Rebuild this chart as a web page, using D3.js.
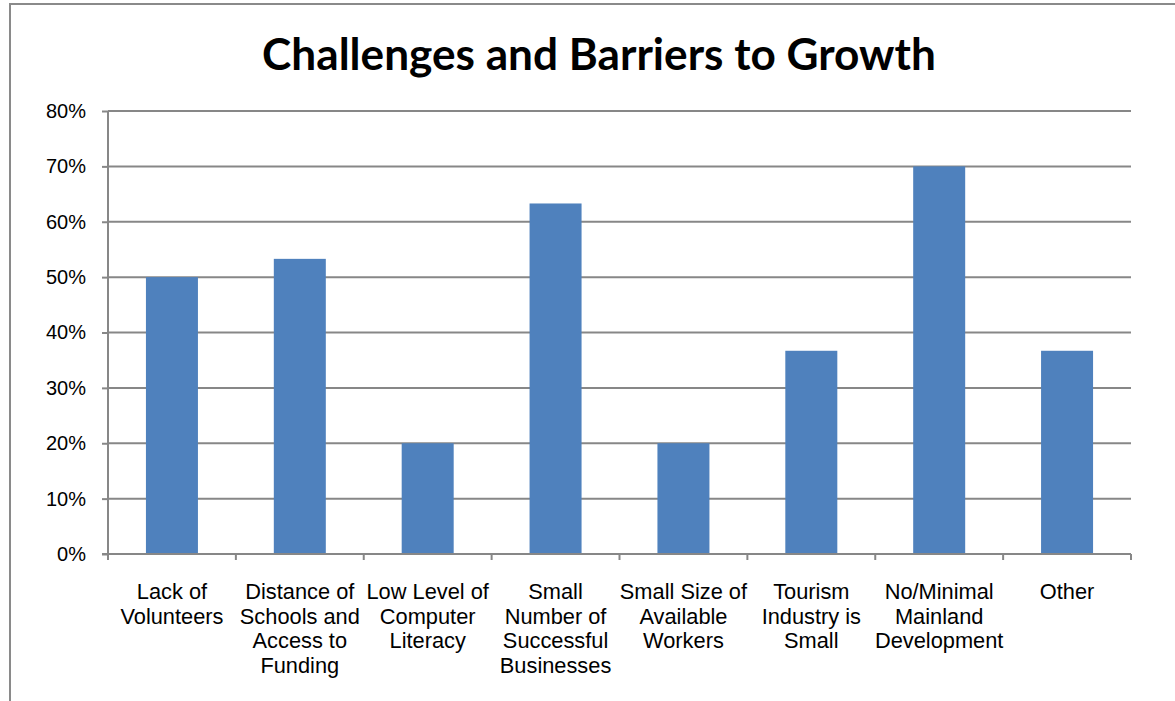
<!DOCTYPE html>
<html>
<head>
<meta charset="utf-8">
<script src="https://cdn.jsdelivr.net/npm/d3@7"></script>
<style>
  html, body { margin: 0; padding: 0; background: #fff; }
  svg { display: block; }
</style>
</head>
<body>
<svg id="chart" width="1175" height="701"></svg>
<script>
// Survey responses: share of respondents naming each barrier
const categories = [
  ["Lack of", "Volunteers"],
  ["Distance of", "Schools and", "Access to", "Funding"],
  ["Low Level of", "Computer", "Literacy"],
  ["Small", "Number of", "Successful", "Businesses"],
  ["Small Size of", "Available", "Workers"],
  ["Tourism", "Industry is", "Small"],
  ["No/Minimal", "Mainland", "Development"],
  ["Other"]
];
const values = [0.50, 0.533, 0.20, 0.633, 0.20, 0.367, 0.70, 0.367];
const yTicks = [0, 0.1, 0.2, 0.3, 0.4, 0.5, 0.6, 0.7, 0.8];
const title = "Challenges and Barriers to Growth";

const svg = d3.select("#chart");
const W = 1175, H = 701;
const plot = { left: 108, right: 1131, top: 111, bottom: 554 };
const gray = "#878787";
const barColor = "#4F81BD";

// Outer frame (top and left edges)
svg.append("path")
  .attr("d", `M10,${H} L10,4 L${W},4`)
  .attr("fill", "none")
  .attr("stroke", "#8a8a8a")
  .attr("stroke-width", 2);

const idx = d3.range(categories.length);
const x = d3.scaleBand().domain(idx).range([plot.left, plot.right]).paddingInner(0).paddingOuter(0);
const y = d3.scaleLinear().domain([0, 0.8]).range([plot.bottom, plot.top]);
const barW = 52;

// Horizontal gridlines
svg.append("g")
  .selectAll("line")
  .data(yTicks.filter(t => t > 0))
  .join("line")
  .attr("x1", plot.left).attr("x2", plot.right)
  .attr("y1", d => y(d)).attr("y2", d => y(d))
  .attr("stroke", gray).attr("stroke-width", 2);

// Bars
svg.append("g")
  .selectAll("rect")
  .data(values)
  .join("rect")
  .attr("x", (d, i) => x(i) + x.bandwidth() / 2 - barW / 2)
  .attr("y", d => y(d))
  .attr("width", barW)
  .attr("height", d => y(0) - y(d))
  .attr("fill", barColor);

// Y axis
const yAxis = d3.axisLeft(y)
  .tickValues(yTicks)
  .tickFormat(d3.format(".0%"))
  .tickSize(6)
  .tickPadding(16);
const gy = svg.append("g")
  .attr("transform", `translate(${plot.left},0)`)
  .call(yAxis);
gy.select(".domain").attr("stroke", gray).attr("stroke-width", 2)
  .attr("d", `M0,${plot.top}V${plot.bottom}`);
gy.selectAll(".tick line").attr("stroke", gray).attr("stroke-width", 2);
gy.selectAll(".tick text")
  .attr("font-family", "Liberation Sans, Arial, sans-serif")
  .attr("font-size", 20)
  .attr("fill", "#000");

// X axis baseline with boundary ticks
svg.append("line")
  .attr("x1", plot.left - 6).attr("x2", plot.right)
  .attr("y1", plot.bottom).attr("y2", plot.bottom)
  .attr("stroke", gray).attr("stroke-width", 2);
const bounds = idx.map(i => x(i)).concat([plot.right]);
svg.append("g")
  .selectAll("line")
  .data(bounds)
  .join("line")
  .attr("x1", d => d).attr("x2", d => d)
  .attr("y1", plot.bottom).attr("y2", plot.bottom + 6)
  .attr("stroke", gray).attr("stroke-width", 2);

// Category labels (multi-line)
const labels = svg.append("g")
  .attr("font-family", "Liberation Sans, Arial, sans-serif")
  .attr("font-size", 21.8)
  .attr("fill", "#000")
  .attr("text-anchor", "middle");
categories.forEach((lines, i) => {
  const t = labels.append("text")
    .attr("x", x(i) + x.bandwidth() / 2)
    .attr("y", 599);
  lines.forEach((ln, k) => {
    t.append("tspan")
      .attr("x", x(i) + x.bandwidth() / 2)
      .attr("dy", k === 0 ? 0 : 24.5)
      .text(ln);
  });
});

// Title
const tt = svg.append("text")
  .attr("x", 599).attr("y", 70)
  .attr("text-anchor", "middle")
  .attr("font-family", "Lato, 'Open Sans', sans-serif")
  .attr("font-weight", "bold")
  .attr("font-size", 42)
  .attr("fill", "#000")
  .text(title);
const targetW = 674;
const w0 = tt.node().getComputedTextLength();
tt.attr("font-size", 42 * targetW / w0);
</script>
</body>
</html>
